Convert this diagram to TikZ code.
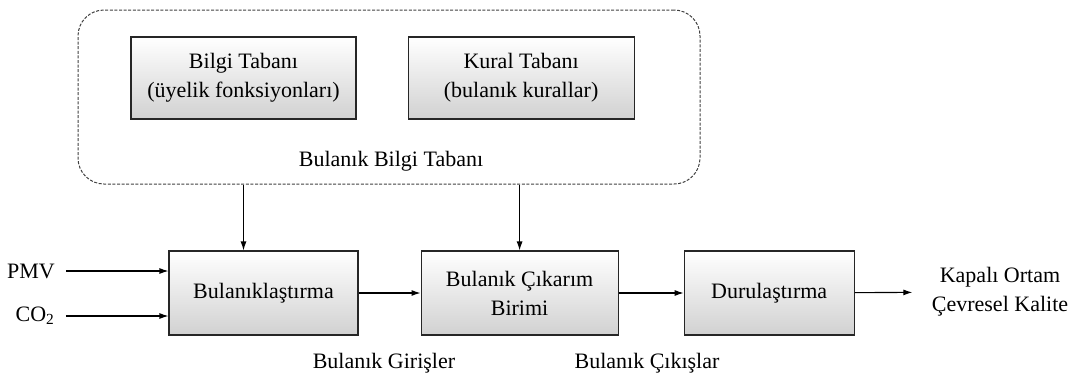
\documentclass[tikz,border=0pt]{standalone}
\usepackage{fontspec}
\setmainfont{Liberation Serif}
\usepackage{tikz}
\usetikzlibrary{arrows.meta,positioning}
\tikzset{block/.style = {draw=black!85, rectangle, line width = 1.1pt, top color = white, bottom color = black!18, minimum height = 84pt, align = center},
         kbblock/.style = {block, minimum height = 82pt, execute at begin node = \rule{0pt}{30pt}},
         base/.style = {draw=black!75, rectangle, line width = 1pt, dash pattern = on 3pt off 1.6pt, rounded corners = 26pt},
         txt/.style = {align = center},
         arr/.style = {line width = 1.1pt, -{Latex[length = 9pt, width = 6pt]}},
}

\begin{document}
\begin{tikzpicture}[x = 1pt, y = -1pt, node distance = 62pt, font = \fontsize{22}{29}\selectfont]
  \useasboundingbox (0,0) rectangle (1076,378);

  % knowledge base
  \node[base, minimum width = 622pt, minimum height = 174pt] (BASE) at (389,97) {};
  \node[kbblock, minimum width = 225pt] (KB) at (243.5,78) {Bilgi Tabanı\\(üyelik fonksiyonları)};
  \node[kbblock, minimum width = 226pt, right = 51pt of KB] (RB) {Kural Tabanı\\(bulanık kurallar)};
  \node[txt] (BASELBL) at (391,161) {Bulanık Bilgi Tabanı};

  % main chain
  \node[block, minimum width = 189pt] (FUZZ) at (263.5,293) {Bulanıklaştırma};
  \node[block, minimum width = 197pt, right = of FUZZ] (INF) {Bulanık Çıkarım\\Birimi};
  \node[block, minimum width = 170pt, right = 65pt of INF] (DEFUZZ) {Durulaştırma};

  \node[txt] (PMV) at (31,271) {PMV};
  \node[txt] (CO2) at (35,316) {CO\textsubscript{2}};

  \node[txt] (GIR) at (384,363) {Bulanık Girişler};
  \node[txt] (CIK) at (647,363) {Bulanık Çıkışlar};

  \node[txt] (OUT) at (1000,292) {Kapalı Ortam\\Çevresel Kalite};

  \draw[arr] (PMV.east) ++(8,0) -- (FUZZ.west |- PMV);
  \draw[arr] (CO2.east) ++(8,0) -- (FUZZ.west |- CO2);

  \draw[arr] (BASE.south -| KB) -- (KB |- FUZZ.north);
  \draw[arr] (BASE.south -| INF) -- (INF.north);

  \draw[arr] (FUZZ) -- (INF);
  \draw[arr] (INF) -- (DEFUZZ);
  \draw[arr, shorten > = 16pt] (DEFUZZ) -- (OUT);

\end{tikzpicture}
\end{document}
